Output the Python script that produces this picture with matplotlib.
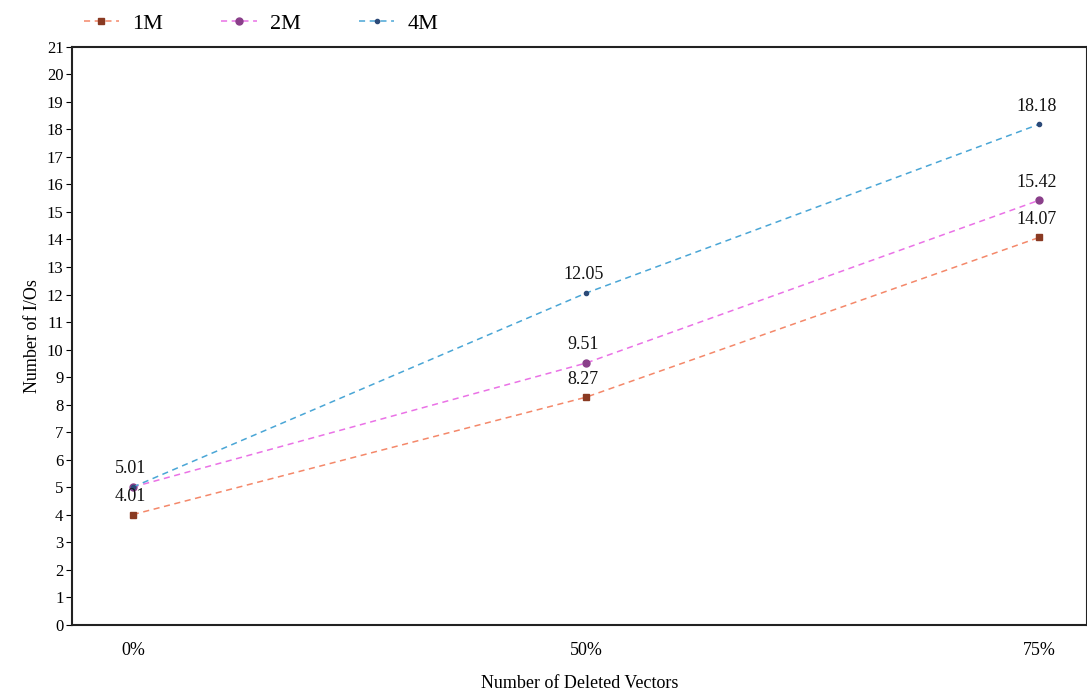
import matplotlib
matplotlib.use('Agg')
import matplotlib.pyplot as plt

categories = ['0%', '50%', '75%']
series_names = ['1M', '2M', '4M']
vals_1m = [4.01, 8.27, 14.07]
vals_2m = [5.01, 9.51, 15.42]
vals_4m = [5.01, 12.05, 18.18]
y_ticks = list(range(0, 22))

plt.rcParams['font.family'] = ['Liberation Serif', 'DejaVu Serif']

fig = plt.figure(figsize=(10.87, 6.96), dpi=100)
ax = fig.add_axes([0.066, 0.102, 0.934, 0.831])

x = list(range(len(categories)))
styles = [
    (vals_1m, '#f4886a', 's', '#8a3a22', 4),
    (vals_2m, '#ea72e6', 'o', '#8a3f8a', 5),
    (vals_4m, '#4aa6d6', 'o', '#2c4a78', 3),
]
for (vals, lc, mk, mc, ms), name in zip(styles, series_names):
    ax.plot(x, vals, linestyle=(0, (4, 3)), color=lc, linewidth=1.1,
            marker=mk, markersize=ms, markerfacecolor=mc, markeredgecolor=mc,
            label=name)

# value labels (4M at 0% overlaps 2M, so skip duplicate)
labels = [(vals_1m, [0, 1, 2]), (vals_2m, [0, 1, 2]), (vals_4m, [1, 2])]
for vals, idx in labels:
    for i in idx:
        ax.annotate(f'{vals[i]:.2f}', (x[i], vals[i]), xytext=(-2, 7),
                    textcoords='offset points', ha='center', va='bottom',
                    fontsize=13, color='#111111')

ax.set_xlim(-0.135, 2.106)
ax.set_ylim(0, 21)
ax.set_xticks(x)
ax.set_xticklabels(categories, fontsize=13)
ax.set_yticks(y_ticks)
ax.set_yticklabels([str(t) for t in y_ticks], fontsize=12)
ax.tick_params(axis='y', length=4, pad=2)
ax.tick_params(axis='x', length=0, pad=12)
for s in ax.spines.values():
    s.set_linewidth(1.5)
    s.set_color('#222222')

ax.set_xlabel('Number of Deleted Vectors', fontsize=13, labelpad=12)
ax.set_ylabel('Number of I/Os', fontsize=13, labelpad=4)

ax.legend(loc='lower left', bbox_to_anchor=(0.003, 1.006), ncol=3, frameon=False,
          fontsize=16, handlelength=1.6, handletextpad=0.6, columnspacing=2.6,
          borderaxespad=0.0)

fig.savefig('out.png', dpi=100)
plt.close()
